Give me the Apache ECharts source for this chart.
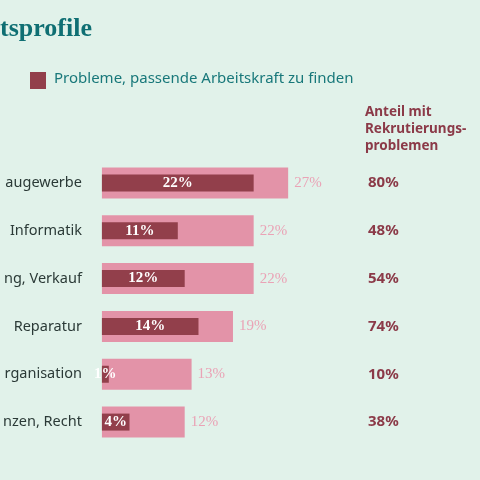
<!DOCTYPE html>
<html><head><meta charset="utf-8">
<script src="https://cdn.jsdelivr.net/npm/echarts@6/dist/echarts.min.js"></script>
<style>html,body{margin:0;padding:0;background:#e1f2ea}#c{width:480px;height:480px}</style>
</head><body><div id="c"></div>
<script>
const categories = ["augewerbe","Informatik","ng, Verkauf","Reparatur","rganisation","nzen, Recht"];
const totalValues = [27,22,22,19,13,12];
const problemValues = [22,11,12,14,1,4];
const recruitShare = ["80%","48%","54%","74%","10%","38%"];

const chart = echarts.init(document.getElementById('c'));
chart.setOption({
  backgroundColor:'#e1f2ea',
  animation:false,
  graphic:[
    {type:'text',left:0,top:16,style:{text:'tsprofile',font:'bold 26px "Liberation Serif", serif',fill:'#0f6f73'}},
    {type:'rect',shape:{x:30,y:72,width:16,height:17},style:{fill:'#923f4b'}},
    {type:'text',left:54,top:71,style:{text:'Probleme, passende Arbeitskraft zu finden',font:'15px "Noto Sans", sans-serif',fill:'#18787a'}},
    {type:'text',left:365,top:104,style:{text:'Anteil mit\nRekrutierungs-\nproblemen',font:'bold 13.5px "Noto Sans", sans-serif',fill:'#8b3a48',lineHeight:17}}
  ],
  grid:{left:98,right:113,top:159,bottom:34},
  xAxis:{type:'value',min:0,max:38.43,show:false},
  yAxis:[
    {type:'category',data:categories,inverse:true,axisLine:{show:false},axisTick:{show:false},
     axisLabel:{margin:20,fontSize:14.5,fontFamily:'Noto Sans',color:'#2b3a37'}},
    {type:'category',data:recruitShare,inverse:true,position:'right',axisLine:{show:false},axisTick:{show:false},
     axisLabel:{margin:1,align:'left',fontSize:15,fontWeight:'bold',fontFamily:'Noto Sans',color:'#8b3a48'}}
  ],
  series:[
    {type:'bar',yAxisIndex:0,data:totalValues,barWidth:31,itemStyle:{color:'#e393a8'},
     label:{show:true,position:'right',distance:6,formatter:'{c}%',fontFamily:'Liberation Serif',fontSize:15,color:'#eaa3b6'}},
    {type:'bar',yAxisIndex:1,data:problemValues,barWidth:17,itemStyle:{color:'#923f4b'},
     label:{show:true,position:'inside',formatter:'{c}%',fontFamily:'Liberation Serif',fontWeight:'bold',fontSize:15,color:'#ffffff'}}
  ]
});
</script></body></html>
